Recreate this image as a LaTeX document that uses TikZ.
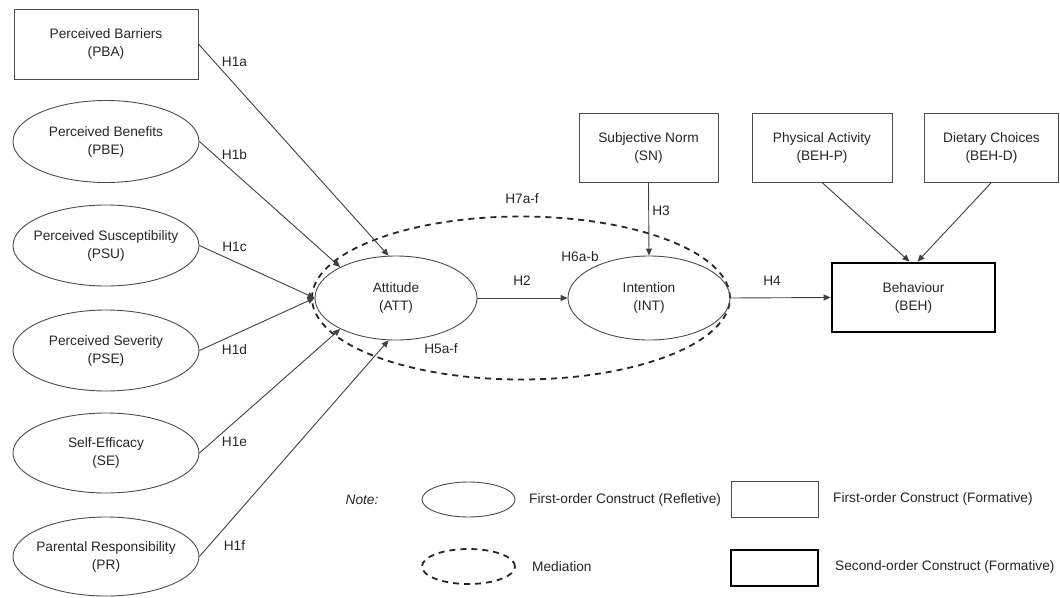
\documentclass[tikz,border=0pt]{standalone}
\usepackage{fontspec}
\setmainfont{Liberation Sans}
\usetikzlibrary{arrows.meta,shapes.geometric}
\begin{document}
\begin{tikzpicture}[x=1pt,y=-1pt,
  every node/.style={font=\fontsize{13.7}{18}\selectfont, text=black!85},
  box/.style={draw=black!70, line width=0.9pt, rectangle, inner sep=0pt, align=center},
  ell/.style={draw=black!70, line width=0.9pt, ellipse, inner xsep=-30pt, inner ysep=0pt, align=center},
  thickbox/.style={draw=black, line width=2.8pt, rectangle, inner sep=0pt, align=center},
  medell/.style={draw=black!85, line width=1.8pt, dash pattern=on 6pt off 5pt, ellipse, inner sep=0pt},
  arr/.style={draw=black!75, line width=0.9pt, -{Triangle[length=7pt,width=6pt]}},
  lbl/.style={inner sep=1pt}]
\useasboundingbox (0,0) rectangle (1060,597);

% mediation ellipse
\node[medell, minimum width=418pt, minimum height=163pt] (med) at (521,298) {};

% left constructs
\node[box, minimum width=184pt, minimum height=70pt] (pba) at (106,44) {Perceived Barriers\\(PBA)};
\node[ell, minimum width=186pt, minimum height=82pt] (pbe) at (106,141.5) {Perceived Benefits\\(PBE)};
\node[ell, minimum width=186pt, minimum height=81pt] (psu) at (106,245.5) {Perceived Susceptibility\\(PSU)};
\node[ell, minimum width=186pt, minimum height=81pt] (pse) at (106,350.5) {Perceived Severity\\(PSE)};
\node[ell, minimum width=186pt, minimum height=80pt] (se) at (106,453) {Self-Efficacy\\(SE)};
\node[ell, minimum width=186pt, minimum height=79pt] (pr) at (106,556.5) {Parental Responsibility\\(PR)};

% central constructs
\node[ell, minimum width=162pt, minimum height=84pt] (att) at (396,298) {Attitude\\(ATT)};
\node[ell, minimum width=162pt, minimum height=84pt] (int) at (649,298) {Intention\\(INT)};
\node[box, minimum width=139pt, minimum height=69pt] (sn) at (648.5,147.5) {Subjective Norm\\(SN)};
\node[box, minimum width=140pt, minimum height=69pt] (behp) at (822,147.5) {Physical Activity\\(BEH-P)};
\node[box, minimum width=134pt, minimum height=69pt] (behd) at (991.5,147.5) {Dietary Choices\\(BEH-D)};
\node[thickbox, minimum width=163pt, minimum height=69pt] (beh) at (913.5,297.5) {Behaviour\\(BEH)};

% connectors
\draw[arr] (pba.east) -- (att.100);
\draw[arr] (pbe.east) -- (att.151);
\draw[arr] (psu.east) -- (att.west);
\draw[arr] (pse.east) -- (att.west);
\draw[arr] (se.east) -- (att.209);
\draw[arr] (pr.east) -- (att.260);
\draw[arr] (att.east) -- (int.west);
\draw[arr] (sn.south) -- (int.north);
\draw[arr] (int.east) -- (beh.west);
\draw[arr] (behp.south) -- ([xshift=-4pt]beh.north);
\draw[arr] (behd.south) -- ([xshift=4pt]beh.north);

% labels
\node[lbl] (h1a) at (234.5,62) {H1a};
\node[lbl] (h1b) at (234.5,154.5) {H1b};
\node[lbl] (h1c) at (234.5,246.5) {H1c};
\node[lbl] (h1d) at (234.5,349.5) {H1d};
\node[lbl] (h1e) at (234.5,442) {H1e};
\node[lbl] (h1f) at (234.5,546) {H1f};
\node[lbl] (h7) at (522,199) {H7a-f};
\node[lbl] (h3) at (661,211) {H3};
\node[lbl] (h6) at (580,257) {H6a-b};
\node[lbl] (h2) at (522,281) {H2};
\node[lbl] (h5) at (441,349) {H5a-f};
\node[lbl] (h4) at (772,281) {H4};

% legend
\node[lbl] (note) at (362,500) {\itshape Note:};
\node[ell, minimum width=93pt, minimum height=35pt] (legell) at (468.5,499.5) {};
\node[lbl, anchor=west] (legellt) at (528,499.5) {First-order Construct (Refletive)};
\node[box, minimum width=87pt, minimum height=36pt] (legbox) at (774.5,499) {};
\node[lbl, anchor=west] (legboxt) at (832,499) {First-order Construct (Formative)};
\node[medell, minimum width=93pt, minimum height=35pt] (legmed) at (468.5,566.5) {};
\node[lbl, anchor=west] (legmedt) at (531,567) {Mediation};
\node[thickbox, minimum width=87pt, minimum height=36pt] (legthick) at (774.5,568) {};
\node[lbl, anchor=west] (legthickt) at (834,567) {Second-order Construct (Formative)};
\end{tikzpicture}
\end{document}
